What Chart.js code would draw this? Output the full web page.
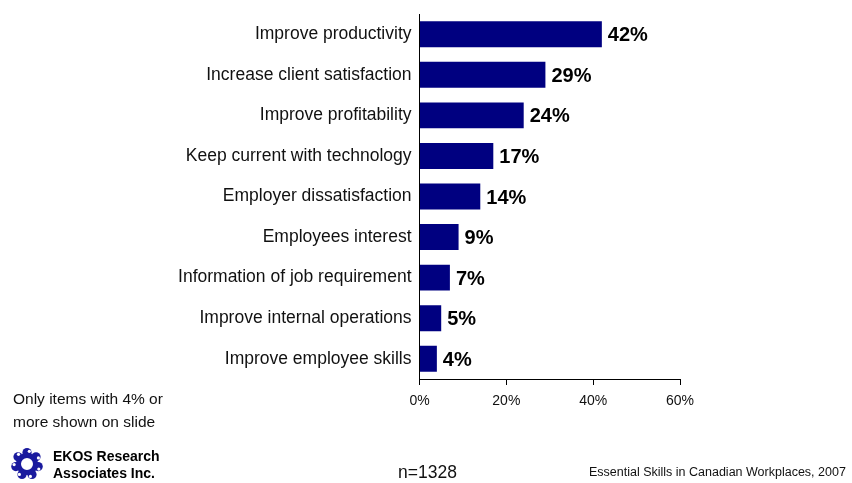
<!DOCTYPE html>
<html>
<head>
<meta charset="utf-8">
<script src="https://cdn.jsdelivr.net/npm/chart.js@4"></script>
<style>
  html,body{margin:0;padding:0;background:#fff;}
  #wrap{position:relative;width:852px;height:483px;overflow:hidden;}
  #chart{position:absolute;left:0;top:0;}
  .note{position:absolute;white-space:nowrap;font-family:"Liberation Sans",Arial,sans-serif;color:#111;}
  .ekos{position:absolute;white-space:nowrap;font-family:"Liberation Sans",Arial,sans-serif;font-weight:bold;font-size:14px;line-height:17px;color:#000;}
</style>
</head>
<body>
<div id="wrap">
  <canvas id="chart" width="852" height="483"></canvas>
  <div class="note" style="left:13px;top:387px;font-size:15.5px;line-height:23px;">Only items with 4% or<br>more shown on slide</div>
  <svg style="position:absolute;left:9px;top:446px" width="36" height="36" viewBox="-18 -18 36 36" id="logo"></svg>
  <div class="ekos" style="left:53px;top:448px;">EKOS Research<br>Associates Inc.</div>
  <div class="note" style="left:398px;top:462px;font-size:17.5px;">n=1328</div>
  <div class="note" style="left:589px;top:465px;font-size:12.5px;">Essential Skills in Canadian Workplaces, 2007</div>
</div>
<script>
// reasons for training, share of respondents
const reasons=[
  "Improve productivity",
  "Increase client satisfaction",
  "Improve profitability",
  "Keep current with technology",
  "Employer dissatisfaction",
  "Employees interest",
  "Information of job requirement",
  "Improve internal operations",
  "Improve employee skills"
];
const shares=[42,29,24,17,14,9,7,5,4];
const xTicks=[0,20,40,60];

const sans='"Liberation Sans",Arial,sans-serif';

// logo: ring of hooked blobs round a white hole
const logo=document.getElementById("logo");
let g='<circle cx="0" cy="0" r="8.5" fill="none" stroke="#1a1a9e" stroke-width="5"/>';
for(let i=0;i<7;i++){
  const a=i*2*Math.PI/7-Math.PI/2;
  const cx=Math.cos(a)*11.5, cy=Math.sin(a)*11.5;
  const hx=cx+Math.cos(a+1.1)*2.6, hy=cy+Math.sin(a+1.1)*2.6;
  g+=`<circle cx="${cx.toFixed(1)}" cy="${cy.toFixed(1)}" r="4.6" fill="#1a1a9e"/>`;
  g+=`<circle cx="${hx.toFixed(1)}" cy="${hy.toFixed(1)}" r="1.6" fill="#fff"/>`;
}
g+='<circle cx="0" cy="0" r="5" fill="#fff"/>';
logo.innerHTML=g;

// percent label after each bar
const valueLabels={
  id:"valueLabels",
  afterDatasetsDraw(chart){
    const ctx=chart.ctx;
    const meta=chart.getDatasetMeta(0);
    ctx.save();
    ctx.font='bold 20px '+sans;
    ctx.fillStyle="#000";
    ctx.textBaseline="middle";
    meta.data.forEach((bar,i)=>{
      ctx.fillText(shares[i]+"%",bar.x+6,bar.y+1.5);
    });
    ctx.restore();
  }
};

new Chart(document.getElementById("chart"),{
  type:"bar",
  data:{
    labels:reasons,
    datasets:[{
      data:shares,
      backgroundColor:"#000080",
      borderWidth:0,
      barPercentage:0.64,
      categoryPercentage:1
    }]
  },
  options:{
    indexAxis:"y",
    responsive:false,
    animation:false,
    layout:{padding:{top:14,right:172,left:0,bottom:0}},
    plugins:{legend:{display:false},tooltip:{enabled:false}},
    scales:{
      x:{
        min:0,max:60,
        afterBuildTicks(s){s.ticks=xTicks.map(v=>({value:v}));},
        afterFit(s){s.height=104;},
        grid:{drawOnChartArea:false,drawTicks:true,tickLength:6,color:"#000"},
        border:{display:true,color:"#000",width:1},
        ticks:{
          padding:8,color:"#111",
          font:{family:sans,size:14},
          callback:v=>v+"%"
        }
      },
      y:{
        afterFit(s){s.width=419.5;},
        grid:{display:false},
        border:{display:true,color:"#000",width:1},
        ticks:{
          padding:0,color:"#111",
          font:{family:sans,size:17.5}
        }
      }
    }
  },
  plugins:[valueLabels]
});
</script>
</body>
</html>
